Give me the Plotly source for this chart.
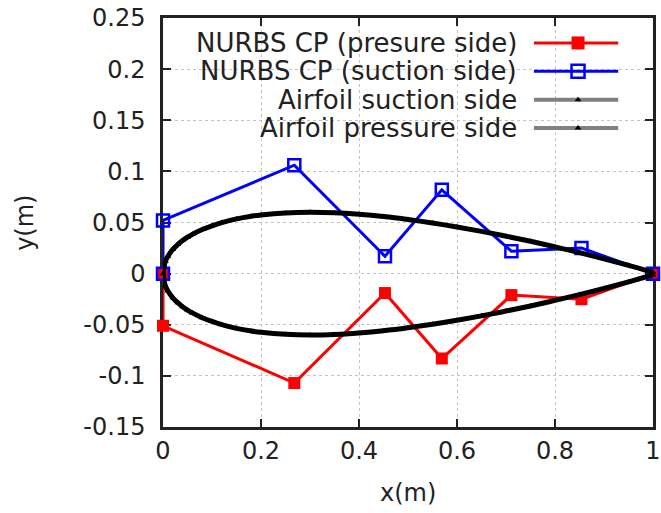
import plotly.graph_objects as go

# NURBS control points
cp_x_pressure = [0.0, 0.0, 0.268, 0.453, 0.569, 0.711, 0.854, 1.0]
cp_y_pressure = [0.0, -0.051, -0.107, -0.019, -0.083, -0.021, -0.025, 0.0]
cp_x_suction = [0.0, 0.0, 0.268, 0.453, 0.569, 0.711, 0.854, 1.0]
cp_y_suction = [0.0, 0.052, 0.106, 0.017, 0.082, 0.022, 0.025, 0.0]

# Airfoil surface points
af_x = [0.0, 0.005, 0.01, 0.02, 0.03, 0.04, 0.05, 0.06, 0.08, 0.1, 0.12, 0.15,
        0.18, 0.2, 0.25, 0.3, 0.35, 0.4, 0.45, 0.5, 0.55, 0.6, 0.65, 0.7, 0.75,
        0.8, 0.85, 0.9, 0.95, 1.0]
af_y_suction = [0.0, 0.0122, 0.0170, 0.0236, 0.0284, 0.0323, 0.0356, 0.0384, 0.0431,
                0.0468, 0.0499, 0.0535, 0.0561, 0.0574, 0.0594, 0.0600, 0.0595, 0.0580,
                0.0558, 0.0529, 0.0495, 0.0456, 0.0413, 0.0366, 0.0316, 0.0262, 0.0205,
                0.0145, 0.0081, 0.0013]
af_y_pressure = [0.0, -0.0122, -0.0170, -0.0236, -0.0284, -0.0323, -0.0356, -0.0384, -0.0431,
                 -0.0468, -0.0499, -0.0535, -0.0561, -0.0574, -0.0594, -0.0600, -0.0595, -0.0580,
                 -0.0558, -0.0529, -0.0495, -0.0456, -0.0413, -0.0366, -0.0316, -0.0262, -0.0205,
                 -0.0145, -0.0081, -0.0013]

x_ticks = [0, 0.2, 0.4, 0.6, 0.8, 1]
x_tick_labels = ["0", "0.2", "0.4", "0.6", "0.8", "1"]
y_ticks = [-0.15, -0.1, -0.05, 0, 0.05, 0.1, 0.15, 0.2, 0.25]
y_tick_labels = ["-0.15", "-0.1", "-0.05", "0", "0.05", "0.1", "0.15", "0.2", "0.25"]

legend_names = ["NURBS CP (presure side)", "NURBS CP (suction side)",
                "Airfoil suction side", "Airfoil pressure side"]

RED = "#ff0000"
BLUE = "#0000ff"
AF_LINE = "#000000"
FONT = "DejaVu Sans"

fig = go.Figure()

fig.add_trace(go.Scatter(x=cp_x_pressure, y=cp_y_pressure, mode="lines+markers",
                         line=dict(color=RED, width=3),
                         marker=dict(symbol="square", size=12, color=RED),
                         cliponaxis=False, showlegend=False))
fig.add_trace(go.Scatter(x=cp_x_suction, y=cp_y_suction, mode="lines+markers",
                         line=dict(color=BLUE, width=3),
                         marker=dict(symbol="square-open", size=12, color=BLUE,
                                     line=dict(width=2.5, color=BLUE)),
                         cliponaxis=False, showlegend=False))
fig.add_trace(go.Scatter(x=af_x, y=af_y_suction, mode="lines+markers",
                         line=dict(color=AF_LINE, width=5, shape="spline"),
                         marker=dict(symbol="triangle-up", size=6, color="black"),
                         cliponaxis=False, showlegend=False))
fig.add_trace(go.Scatter(x=af_x, y=af_y_pressure, mode="lines+markers",
                         line=dict(color=AF_LINE, width=5, shape="spline"),
                         marker=dict(symbol="triangle-up", size=6, color="black"),
                         cliponaxis=False, showlegend=False))

# Custom legend (text on the left, sample on the right, like gnuplot)
row_y = [0.939, 0.870, 0.800, 0.731]
sample_x0, sample_xm, sample_x1 = 0.757, 0.847, 0.929
legend_styles = [
    dict(lc=RED, lw=3, sym="square", ms=13, mc=RED, mlw=0),
    dict(lc=BLUE, lw=3, sym="square-open", ms=13, mc=BLUE, mlw=2.5),
    dict(lc="#808080", lw=4, sym="triangle-up", ms=6, mc="black", mlw=0),
    dict(lc="#808080", lw=4, sym="triangle-up", ms=6, mc="black", mlw=0),
]
for name, yy, st in zip(legend_names, row_y, legend_styles):
    fig.add_trace(go.Scatter(x=[sample_x0, sample_x1], y=[yy, yy], mode="lines",
                             line=dict(color=st["lc"], width=st["lw"]),
                             xaxis="x2", yaxis="y2", showlegend=False, hoverinfo="skip"))
    fig.add_trace(go.Scatter(x=[sample_xm], y=[yy], mode="markers",
                             marker=dict(symbol=st["sym"], size=st["ms"], color=st["mc"],
                                         line=dict(width=st["mlw"], color=st["mc"])),
                             xaxis="x2", yaxis="y2", showlegend=False, hoverinfo="skip"))
    fig.add_annotation(x=0.726, y=yy, xref="paper", yref="paper", text=name,
                       showarrow=False, xanchor="right", yanchor="middle",
                       font=dict(family=FONT, size=26, color="#222222"))

# Opaque legend box (covers grid, below traces)
fig.add_shape(type="rect", xref="paper", yref="paper", x0=0.025, x1=0.955,
              y0=0.695, y1=0.975, fillcolor="white", line=dict(width=0), layer="between")

# Axis titles
fig.add_annotation(x=0.5, y=-0.161, xref="paper", yref="paper", text="x(m)",
                   showarrow=False, xanchor="center", yanchor="middle",
                   font=dict(family=FONT, size=24, color="#222222"))
fig.add_annotation(x=-0.283, y=0.5, xref="paper", yref="paper", text="y(m)",
                   showarrow=False, xanchor="center", yanchor="middle", textangle=-90,
                   font=dict(family=FONT, size=24, color="#222222"))

axis_common = dict(showline=True, linecolor="#222222", linewidth=2.5, mirror="ticks",
                   ticks="inside", ticklen=8, tickwidth=2, tickcolor="#222222",
                   showgrid=True, gridcolor="#c4c4c4", gridwidth=1, griddash="dot",
                   zeroline=False, layer="below traces", automargin=False,
                   tickfont=dict(family=FONT, size=24, color="#222222"))

fig.update_layout(
    width=661, height=513,
    margin=dict(l=163, r=8, t=18, b=86),
    paper_bgcolor="white", plot_bgcolor="white",
    font=dict(family=FONT, size=24, color="#222222"),
    xaxis=dict(range=[0, 1], tickvals=x_ticks, ticktext=x_tick_labels, **axis_common),
    yaxis=dict(range=[-0.15, 0.25], tickvals=y_ticks, ticktext=y_tick_labels,
               ticklabelstandoff=10, **axis_common),
    xaxis2=dict(range=[0, 1], overlaying="x", visible=False, fixedrange=True),
    yaxis2=dict(range=[0, 1], overlaying="y", visible=False, fixedrange=True),
    showlegend=False,
)

fig.write_html("out.html", config={"displayModeBar": False},
               post_script="document.body.style.margin='0';document.body.style.overflow='hidden';")
